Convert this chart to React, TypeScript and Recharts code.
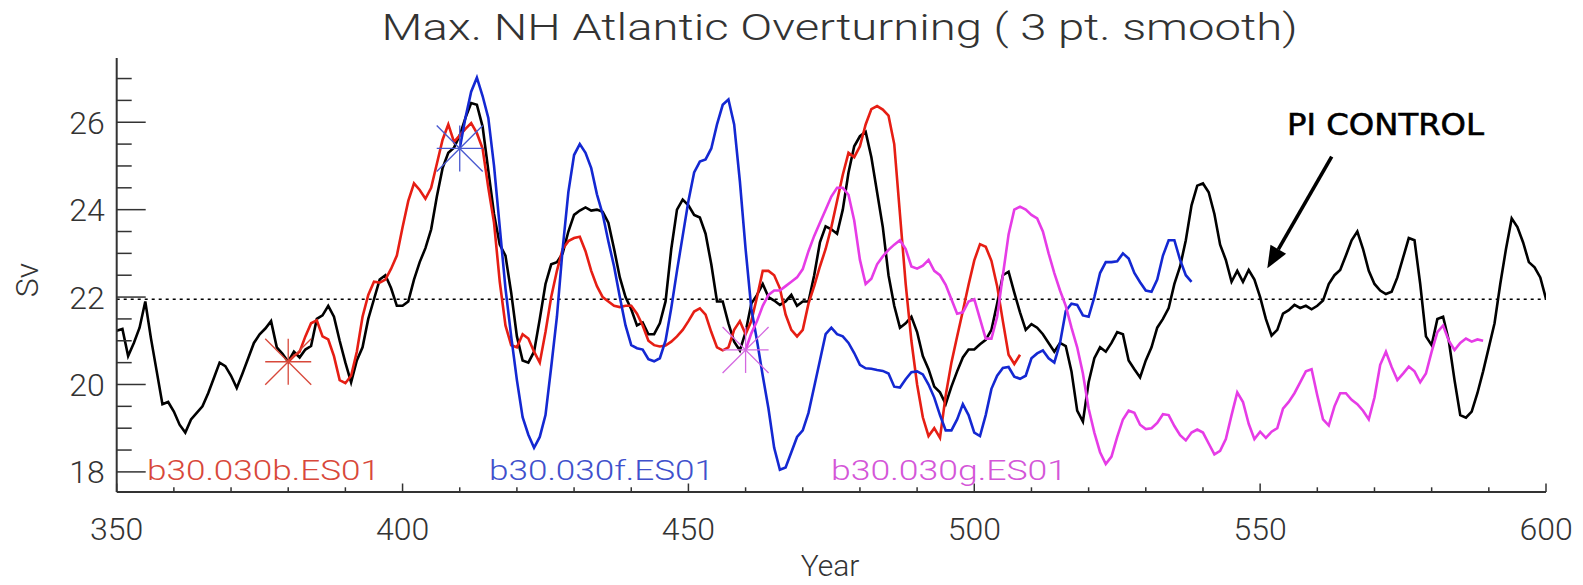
import React from 'react';
import { LineChart, Line, XAxis, YAxis, ReferenceLine, ReferenceDot } from 'recharts';

// Max. NH Atlantic overturning (Sv), 3 pt. smooth, one value per year
const controlStart = 350;
const controlSv = [
  21.23, 21.27, 20.65, 20.95, 21.3, 21.9, 21.05, 20.3, 19.55, 19.6,
  19.38, 19.08, 18.9, 19.2, 19.35, 19.5, 19.8, 20.15, 20.5, 20.42,
  20.2, 19.92, 20.25, 20.6, 20.95, 21.15, 21.28, 21.45, 20.85, 20.7,
  20.52, 20.75, 20.62, 20.8, 20.88, 21.5, 21.58, 21.8, 21.55, 21.0,
  20.5, 20.05, 20.55, 20.85, 21.5, 21.95, 22.4, 22.5, 22.2, 21.8,
  21.8, 21.9, 22.4, 22.8, 23.12, 23.55, 24.3, 24.95, 25.3, 25.42,
  25.7, 26.1, 26.44, 26.4, 25.9, 24.9, 23.9, 23.2, 22.95, 22.1,
  21.1, 20.55, 20.5, 20.75, 21.5, 22.3, 22.75, 22.8, 23.0, 23.5,
  23.88, 23.98, 24.05, 23.98, 24.0, 23.95, 23.7, 23.1, 22.45, 22.0,
  21.72, 21.35, 21.42, 21.15, 21.15, 21.4, 21.9, 23.1, 24.0, 24.23,
  24.1, 23.88, 23.82, 23.45, 22.75, 21.9, 21.9, 21.4, 20.98, 20.78,
  21.2, 21.85, 22.05, 22.3, 22.0, 21.92, 21.82, 21.9, 22.05, 21.8,
  21.9, 21.9, 22.5, 23.25, 23.62, 23.55, 23.45, 24.0, 24.85, 25.45,
  25.68, 25.78, 25.2, 24.4, 23.6, 22.5, 21.8, 21.3, 21.4, 21.55,
  21.2, 20.65, 20.35, 19.95, 19.82, 19.55, 19.95, 20.3, 20.62, 20.8,
  20.8, 20.92, 21.02, 21.25, 21.85, 22.5, 22.58, 22.1, 21.65, 21.25,
  21.38, 21.3, 21.15, 20.95, 20.75, 20.95, 20.88, 20.3, 19.4, 19.15,
  20.05, 20.6, 20.85, 20.75, 20.95, 21.2, 21.15, 20.55, 20.35, 20.16,
  20.55, 20.85, 21.3, 21.5, 21.75, 22.3, 22.7, 23.3, 24.1, 24.55,
  24.6, 24.4, 23.9, 23.2, 22.85, 22.35, 22.6, 22.35, 22.62, 22.4,
  22.0, 21.5, 21.12, 21.25, 21.62, 21.7, 21.82, 21.75, 21.8, 21.72,
  21.8, 21.92, 22.3, 22.5, 22.62, 22.95, 23.3, 23.5, 23.1, 22.6,
  22.3, 22.15, 22.07, 22.12, 22.45, 22.9, 23.35, 23.3, 22.3, 21.1,
  20.9, 21.5, 21.55, 21.0, 20.1, 19.3, 19.24, 19.38, 19.8, 20.3,
  20.85, 21.4, 22.3, 23.1, 23.8, 23.6, 23.25, 22.8, 22.68, 22.45,
  21.96,
];

const runBStart = 380; // b30.030b.ES01
const runBSv = [
  20.52, 20.65, 20.75, 21.1, 21.4, 21.47, 21.1, 21.03, 20.65, 20.1,
  20.03, 20.2, 20.75, 21.55, 22.05, 22.35, 22.33, 22.4, 22.65, 22.95,
  23.6, 24.2, 24.6, 24.45, 24.25, 24.5, 25.05, 25.6, 25.95, 25.55,
  25.7, 25.85, 25.98, 25.75, 25.4, 24.5, 23.7, 22.35, 21.35, 20.9,
  20.85, 21.15, 21.05, 20.75, 20.5, 21.2, 22.0, 22.6, 23.1, 23.28,
  23.35, 23.38, 23.05, 22.6, 22.25, 22.0, 21.9, 21.8, 21.77, 21.8,
  21.8, 21.62, 21.35, 21.0, 20.9, 20.87, 20.89, 20.98, 21.1, 21.25,
  21.45, 21.67, 21.74, 21.6, 21.2, 20.85, 20.78, 20.85, 21.25, 21.45,
  21.15, 21.45, 22.0, 22.6, 22.6, 22.5, 22.2, 21.6, 21.25, 21.1,
  21.25, 21.85, 22.25, 22.7, 23.1, 23.6, 24.2, 24.8, 25.3, 25.2,
  25.45, 25.95, 26.3, 26.37, 26.29, 26.15, 25.5, 23.9, 22.3, 21.0,
  20.0, 19.25, 18.82, 19.0, 18.78, 19.75, 20.5, 21.1, 21.68, 22.28,
  22.84, 23.21, 23.15, 22.83, 22.25, 21.45, 20.68, 20.47, 20.68,
];

const runFStart = 410; // b30.030f.ES01
const runFSv = [
  25.4, 26.1, 26.7, 27.02, 26.6, 26.1, 25.0, 23.6, 22.2, 21.1,
  20.1, 19.25, 18.85, 18.55, 18.8, 19.3, 20.4, 21.55, 23.1, 24.4,
  25.25, 25.5, 25.3, 24.95, 24.35, 23.9, 23.27, 22.7, 22.0, 21.35,
  20.9, 20.83, 20.8, 20.58, 20.53, 20.6, 21.0, 21.75, 22.6, 23.4,
  24.2, 24.85, 25.1, 25.15, 25.4, 25.95, 26.4, 26.52, 25.95, 24.65,
  23.1, 21.74, 21.0, 20.2, 19.45, 18.55, 18.05, 18.1, 18.45, 18.8,
  18.95, 19.35, 19.95, 20.55, 21.15, 21.3, 21.15, 21.1, 20.95, 20.72,
  20.45, 20.37, 20.36, 20.33, 20.31, 20.25, 19.95, 19.93, 20.12, 20.28,
  20.3, 20.23, 20.0, 19.7, 19.3, 18.95, 18.95, 19.2, 19.55, 19.3,
  18.9, 18.82, 19.3, 19.9, 20.2, 20.38, 20.4, 20.18, 20.13, 20.2,
  20.6, 20.71, 20.78, 20.6, 20.5, 20.95, 21.68, 21.85, 21.82, 21.58,
  21.55, 22.0, 22.55, 22.8, 22.8, 22.82, 23.0, 22.88, 22.55, 22.34,
  22.15, 22.12, 22.4, 22.95, 23.3, 23.3, 22.85, 22.5, 22.35,
];

const runGStart = 460; // b30.030g.ES01
const runGSv = [
  20.79, 21.17, 21.45, 21.8, 22.05, 22.15, 22.15, 22.25, 22.35, 22.45,
  22.64, 23.05, 23.4, 23.7, 24.0, 24.3, 24.5, 24.5, 24.34, 23.75,
  22.85, 22.3, 22.42, 22.75, 22.93, 23.08, 23.2, 23.3, 23.1, 22.7,
  22.65, 22.72, 22.85, 22.6, 22.5, 22.28, 21.95, 21.62, 21.65, 21.9,
  21.95, 21.5, 21.05, 21.05, 21.55, 22.5, 23.43, 24.0, 24.07, 24.0,
  23.88, 23.8, 23.5, 23.0, 22.55, 22.15, 21.8, 21.3, 20.85, 20.25,
  19.45, 18.9, 18.45, 18.18, 18.35, 18.8, 19.2, 19.4, 19.35, 19.08,
  18.98, 19.0, 19.12, 19.32, 19.3, 19.05, 18.84, 18.72, 18.9, 18.97,
  18.9, 18.65, 18.4, 18.48, 18.75, 19.3, 19.82, 19.6, 19.1, 18.75,
  18.92, 18.78, 18.92, 19.0, 19.45, 19.6, 19.8, 20.05, 20.3, 20.35,
  19.75, 19.2, 19.06, 19.5, 19.8, 19.8, 19.65, 19.55, 19.4, 19.2,
  19.7, 20.45, 20.75, 20.4, 20.1, 20.25, 20.41, 20.3, 20.05, 20.25,
  20.75, 21.2, 21.35, 21.0, 20.79, 20.95, 21.05, 20.98, 21.03, 21.0,
];

// start-of-run markers
const starYears = [380, 410, 460];
const starSv = [20.52, 25.4, 20.79];
const starColors = ['#d8483a', '#4858d0', '#d468e0'];

const controlMean = 21.95;

const xTicks = [350, 360, 370, 380, 390, 400, 410, 420, 430, 440, 450, 460, 470,
  480, 490, 500, 510, 520, 530, 540, 550, 560, 570, 580, 590, 600];
const xLabels = [350, 400, 450, 500, 550, 600];
const yTicks = [18, 18.5, 19, 19.5, 20, 20.5, 21, 21.5, 22, 22.5, 23, 23.5, 24,
  24.5, 25, 25.5, 26, 26.5, 27];
const yLabels = [18, 20, 22, 24, 26];

const toRows = (start: number, vals: number[]) => vals.map((sv, i) => ({ year: start + i, sv }));

const FONT = 'Roboto, "DejaVu Sans", sans-serif';
const AXIS = '#333';

const BottomTick = ({ x, y, payload }: any) => {
  const major = xLabels.includes(payload.value);
  return (
    <g>
      <line x1={x} x2={x} y1={y} y2={y - (major ? 8.5 : 4.7)} stroke={AXIS} strokeWidth={1.5} />
      {major && (
        <text x={x} y={y + 48} textAnchor="middle" fontFamily={FONT} fontWeight={300} fontSize={32} fill={AXIS}>
          {payload.value}
        </text>
      )}
    </g>
  );
};

const TopTick = ({ x, y, payload }: any) => {
  const major = xLabels.includes(payload.value);
  return <line x1={x} x2={x} y1={y} y2={y + (major ? 8.5 : 4.7)} stroke={AXIS} strokeWidth={1.5} />;
};

const LeftTick = ({ x, y, payload }: any) => {
  const major = yLabels.includes(payload.value);
  return (
    <g>
      <line x1={x} x2={x + (major ? 29 : 15)} y1={y} y2={y} stroke={AXIS} strokeWidth={1.5} />
      {major && (
        <text x={x - 12} y={y + 11.5} textAnchor="end" fontFamily={FONT} fontWeight={300} fontSize={32} fill={AXIS}>
          {payload.value}
        </text>
      )}
    </g>
  );
};

const RightTick = ({ x, y, payload }: any) => {
  const major = yLabels.includes(payload.value);
  return <line x1={x} x2={x - (major ? 29 : 15)} y1={y} y2={y} stroke={AXIS} strokeWidth={1.5} />;
};

const Star = ({ cx, cy, fill }: any) => {
  const r = 23;
  return (
    <g stroke={fill} strokeWidth={1.3}>
      <line x1={cx - r} x2={cx + r} y1={cy} y2={cy} />
      <line x1={cx} x2={cx} y1={cy - r} y2={cy + r} />
      <line x1={cx - r} x2={cx + r} y1={cy - r} y2={cy + r} />
      <line x1={cx - r} x2={cx + r} y1={cy + r} y2={cy - r} />
    </g>
  );
};

const series = [
  { name: 'control', rows: toRows(controlStart, controlSv), color: '#000000' },
  { name: 'b30.030b.ES01', rows: toRows(runBStart, runBSv), color: '#e61e14' },
  { name: 'b30.030f.ES01', rows: toRows(runFStart, runFSv), color: '#1428d2' },
  { name: 'b30.030g.ES01', rows: toRows(runGStart, runGSv), color: '#e63ce6' },
];

export default function App() {
  return (
    <div style={{ position: 'relative', width: 1583, height: 585, background: '#fff' }}>
      <style>{'body{margin:0}'}</style>
      <LineChart width={1583} height={585} margin={{ top: 58, right: 37, bottom: 33, left: 56.7 }}>
        <XAxis xAxisId="b" dataKey="year" type="number" domain={[350, 600]} allowDataOverflow
          ticks={xTicks} interval={0} height={60} tickSize={0} tickMargin={0}
          axisLine={{ stroke: AXIS, strokeWidth: 2 }} tickLine={false} tick={<BottomTick />} />
        <XAxis xAxisId="t" orientation="top" dataKey="year" type="number" domain={[350, 600]} allowDataOverflow
          ticks={xTicks} interval={0} height={0} tickSize={0} tickMargin={0}
          axisLine={{ stroke: AXIS, strokeWidth: 2 }} tickLine={false} tick={<TopTick />} />
        <YAxis yAxisId="l" type="number" domain={[17.54, 27.47]} allowDataOverflow
          ticks={yTicks} interval={0} width={60} tickSize={0} tickMargin={0}
          axisLine={{ stroke: AXIS, strokeWidth: 2 }} tickLine={false} tick={<LeftTick />} />
        <YAxis yAxisId="r" orientation="right" type="number" domain={[17.54, 27.47]} allowDataOverflow
          ticks={yTicks} interval={0} width={0} tickSize={0} tickMargin={0}
          axisLine={{ stroke: AXIS, strokeWidth: 2 }} tickLine={false} tick={<RightTick />} />
        <ReferenceLine xAxisId="b" yAxisId="l" y={controlMean} stroke="#000" strokeWidth={1.5} strokeDasharray="3 4" />
        {series.map((s) => (
          <Line key={s.name} xAxisId="b" yAxisId="l" data={s.rows} dataKey="sv" name={s.name}
            stroke={s.color} strokeWidth={2.6} dot={false} isAnimationActive={false} type="linear" />
        ))}
        {starYears.map((yr, i) => (
          <ReferenceDot key={yr} xAxisId="b" yAxisId="l" x={yr} y={starSv[i]} r={23}
            fill={starColors[i]} shape={<Star />} />
        ))}
      </LineChart>
      <svg width={1583} height={585} style={{ position: 'absolute', left: 0, top: 0, pointerEvents: 'none' }}>
        <text x={381.6} y={40} fontFamily={FONT} fontWeight={300} fontSize={37} fill={AXIS}
          textLength={916} lengthAdjust="spacingAndGlyphs">Max. NH Atlantic Overturning ( 3 pt. smooth)</text>
        <text x={830} y={576} textAnchor="middle" fontFamily={FONT} fontWeight={300} fontSize={30} fill={AXIS}>Year</text>
        <text transform="translate(38,280) rotate(-90)" textAnchor="middle" fontFamily={FONT} fontWeight={300}
          fontSize={32} fill={AXIS}>Sv</text>
        <text x={147} y={480} fontFamily={FONT} fontWeight={300} fontSize={28} fill="#d8483a"
          textLength={233} lengthAdjust="spacingAndGlyphs">b30.030b.ES01</text>
        <text x={489} y={480} fontFamily={FONT} fontWeight={300} fontSize={28} fill="#4050cc"
          textLength={225} lengthAdjust="spacingAndGlyphs">b30.030f.ES01</text>
        <text x={831} y={480} fontFamily={FONT} fontWeight={300} fontSize={28} fill="#d456d8"
          textLength={236} lengthAdjust="spacingAndGlyphs">b30.030g.ES01</text>
        <text x={1287} y={135} fontFamily='"DejaVu Sans", sans-serif' fontSize={31} fill="#000"
          stroke="#000" strokeWidth={0.6} textLength={197} lengthAdjust="spacingAndGlyphs">PI CONTROL</text>
        <line x1={1331.7} y1={156.7} x2={1278.3} y2={249.3} stroke="#000" strokeWidth={3.6} />
        <polygon points="1267.3,268.3 1286.1,253.8 1270.5,244.8" fill="#000" />
      </svg>
    </div>
  );
}
